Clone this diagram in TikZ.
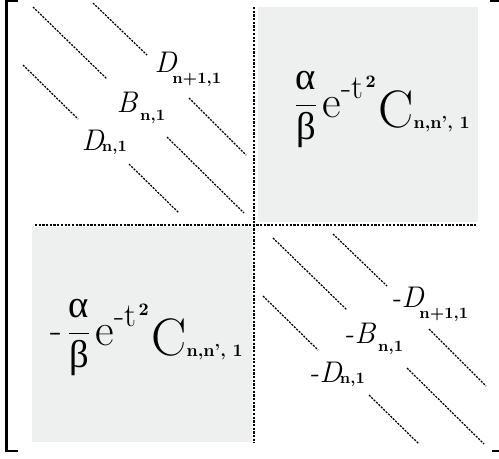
\documentclass[tikz,border=0pt]{standalone}
\usepackage{fontspec}
\newfontfamily\greekfont{Liberation Serif}
\definecolor{cgray}{HTML}{EEEFEF}
\newcommand\subfont{\fontsize{9}{10}\selectfont\bfseries\upshape}
\newcommand\coupling{%
  \raisebox{7.2pt}{\fontsize{22}{24}\selectfont$\displaystyle\frac{\mbox{\greekfont α}}{\mbox{\greekfont β}}$}%
  \hspace{2.5pt}%
  \raisebox{5.5pt}{\fontsize{26}{28}\selectfont e}%
  \raisebox{16pt}{\fontsize{19}{20}\selectfont -t}%
  \hspace{1.5pt}%
  \raisebox{22.5pt}{\fontsize{10}{11}\selectfont\bfseries 2}%
  \hspace{1.5pt}%
  {\fontsize{30}{32}\selectfont C}%
  \raisebox{-1.1pt}{\fontsize{10}{11}\selectfont\bfseries n,n', 1}}
\tikzset{
  every picture/.style={line width=0.8pt},
  block/.style={fill=cgray, draw=none},
  band/.style={draw, line width=0.7pt, dash pattern=on 1.2pt off 0.7pt},
  divider/.style={draw, line width=0.9pt, dash pattern=on 1.3pt off 0.8pt},
  bracket/.style={draw, line width=1.4pt},
  entry/.style={inner sep=0pt, anchor=base west, font=\fontsize{17}{20}\selectfont\itshape},
  coupling/.style={inner sep=0pt, anchor=base west},
}
\begin{document}
\begin{tikzpicture}[x=0.02cm, y=-0.02cm]
  \useasboundingbox (0,0) rectangle (499,458);
  % off-diagonal blocks
  \fill[block] (258,7) rectangle (478,222);
  \fill[block] (32,227) rectangle (252,442);
  % block dividers
  \draw[divider] (254,7) -- (254,443);
  \draw[divider] (35,225) -- (476,225);
  % tridiagonal bands
  \foreach \sx/\sy in {0/0, 240/231} {
    \begin{scope}[shift={(\sx,\sy)}]
      \draw[band] (33,7) -- (107,79);
      \draw[band] (93,3) -- (147,55);
      \draw[band] (23,65) -- (78,119);
      \draw[band] (189,98) -- (246,155);
      \draw[band] (167,137) -- (244,213);
      \draw[band] (129,164) -- (179,213);
    \end{scope}
  }
  % brackets
  \draw[bracket] (18,1) -- (6.5,1) -- (6.5,451) -- (18,451);
  \draw[bracket] (490,1) -- (500.5,1) -- (500.5,451) -- (492,451);
  % upper-left entries
  \node[entry] (dup) at (154,72) {D\hspace{-2.5pt}\raisebox{-6.8pt}{\subfont n+1,1}};
  \node[entry] (bmid) at (116,112) {B\hspace{1.7pt}\raisebox{-5.1pt}{\subfont n,1}};
  \node[entry] (dlow) at (81,150) {D\hspace{-1pt}\raisebox{-1.1pt}{\subfont n,1}};
  % lower-right entries
  \node[entry] (mdup) at (401,307) {\makebox[0pt][r]{-\hspace{0.3pt}}D\hspace{-2.5pt}\raisebox{-6.8pt}{\subfont n+1,1}};
  \node[entry] (mbmid) at (354,343) {\makebox[0pt][r]{-\hspace{0.3pt}}B\hspace{1.7pt}\raisebox{-5.1pt}{\subfont n,1}};
  \node[entry] (mdlow) at (319,382) {\makebox[0pt][r]{-\hspace{0.3pt}}D\hspace{-1pt}\raisebox{-1.1pt}{\subfont n,1}};
  % coupling blocks
  \node[coupling] (cup) at (293,127) {\coupling};
  \node[coupling] (clow) at (66,355) {\makebox[0pt][r]{\raisebox{7.2pt}{\fontsize{22}{24}\selectfont -}\hspace{2.5pt}}\coupling};
\end{tikzpicture}
\end{document}
